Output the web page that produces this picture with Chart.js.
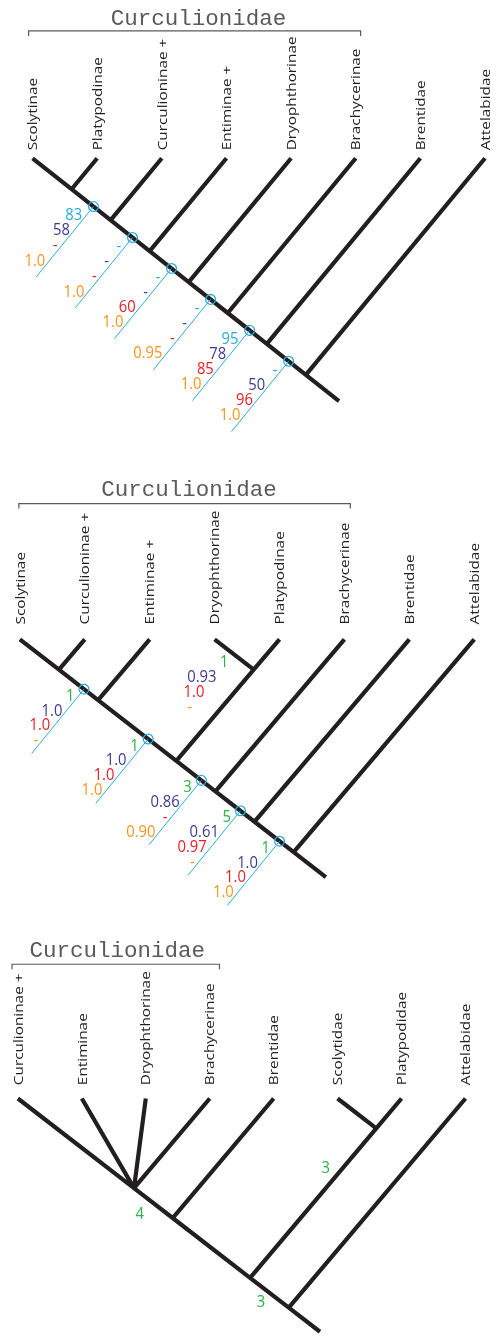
<!DOCTYPE html>
<html>
<head>
<meta charset="utf-8">
<script src="https://cdn.jsdelivr.net/npm/chart.js@4.4.1/dist/chart.umd.min.js"></script>
<style>
  html, body { margin: 0; padding: 0; background: #fff; }
  #wrap { width: 498px; height: 1342px; position: relative; }
</style>
</head>
<body>
<div id="wrap"><canvas id="c"></canvas></div>
<script>
// ---------- taxa ----------
const taxaA = ['Scolytinae', 'Platypodinae', 'Curculioninae +', 'Entiminae +', 'Dryophthorinae', 'Brachycerinae', 'Brentidae', 'Attelabidae'];
const taxaB = ['Scolytinae', 'Curculioninae +', 'Entiminae +', 'Dryophthorinae', 'Platypodinae', 'Brachycerinae', 'Brentidae', 'Attelabidae'];
const taxaC = ['Curculioninae +', 'Entiminae', 'Dryophthorinae', 'Brachycerinae', 'Brentidae', 'Scolytidae', 'Platypodidae', 'Attelabidae'];

// ---------- topologies (nested indices into the taxa lists) ----------
const topoA = [[[[[[[0, 1], 2], 3], 4], 5], 6], 7];
const topoB = [[[[[[0, 1], 2], [3, 4]], 5], 6], 7];
const topoC = [[[[0, 1, 2, 3], 4], [5, 6]], 7];

// taxa covered by the Curculionidae bracket (first, last)
const familyA = [0, 5];
const familyB = [0, 5];
const familyC = [0, 3];
const familyName = 'Curculionidae';

// ---------- clade support (clade = "first-last" tip index), null = '-' ----------
const cladesA = ['0-1', '0-2', '0-3', '0-4', '0-5', '0-6'];
const cyanA   = [83, null, null, null, 95, null];
const navyA   = [58, null, null, null, 78, 50];
const redA    = [null, null, 60, null, 85, 96];
const orangeA = [1.0, 1.0, 1.0, 0.95, 1.0, 1.0];

const cladesB = ['0-1', '0-2', '3-4', '0-4', '0-5', '0-6'];
const greenB  = [1, 1, 1, 3, 5, 1];
const navyB   = [1.0, 1.0, 0.93, 0.86, 0.61, 1.0];
const redB    = [1.0, 1.0, 1.0, null, 0.97, 1.0];
const orangeB = [null, 1.0, null, 0.90, null, 1.0];

const cladesC = ['0-3', '5-6', '0-6'];
const greenC  = [4, 3, 3];

// ---------- styling ----------
const INK = '#231f20', CYAN = '#29abe2', NAVY = '#3b3a92', RED = '#ec1c24', ORANGE = '#f7941d', GREEN = '#2bb04a';
const GREY = '#5a5a5a';
const SANS = '"Open Sans", "Noto Sans", sans-serif';
const MONO = '"Courier New", "Liberation Mono", monospace';

function fmt(v, kind) {
  if (v === null) return '-';
  if (kind === 'prob') return v === 1 ? '1.0' : v.toFixed(2);
  return String(v);
}

const trees = [
  {
    taxa: taxaA, topo: topoA, family: familyA, clades: cladesA,
    series: [
      { vals: cyanA, color: CYAN, kind: 'int' },
      { vals: navyA, color: NAVY, kind: 'int' },
      { vals: redA, color: RED, kind: 'int' },
      { vals: orangeA, color: ORANGE, kind: 'prob' }
    ],
    geo: { x0: 27, dx: 66.29, yTip: 153.5, m: 0.78, s: 1.19, rootExt: 34, nameGap: 8,
           bracketY: 25, bracketL: -4, bracketR: 5, titleY: 13, titleDx: 4,
           circleT: 0.56, leaderLen: 71, leaderSlope: 1.21, row0: 9, rowStep: 15.3 },
    place: {}
  },
  {
    taxa: taxaB, topo: topoB, family: familyB, clades: cladesB,
    series: [
      { vals: greenB, color: GREEN, kind: 'int' },
      { vals: navyB, color: NAVY, kind: 'prob' },
      { vals: redB, color: RED, kind: 'prob' },
      { vals: orangeB, color: ORANGE, kind: 'prob' }
    ],
    geo: { x0: 14, dx: 66.57, yTip: 639, m: 0.765, s: 1.16, rootExt: 33, nameGap: 15,
           bracketY: 502, bracketL: -1, bracketR: 6, titleY: 488, titleDx: 4.5,
           circleT: 0.64, leaderLen: 65, leaderSlope: 1.21, row0: 7, rowStep: 15 },
    place: { '3-4': { mode: 'free', dx: -16, dy: -14 } }
  },
  {
    taxa: taxaC, topo: topoC, family: familyC, clades: cladesC,
    series: [ { vals: greenC, color: GREEN, kind: 'int' } ],
    geo: { x0: 12, dx: 65.57, yTip: 1102.5, m: 0.76, s: 1.165, rootExt: 32, nameGap: 13.5,
           bracketY: 967, bracketL: -6, bracketR: 10, titleY: 954, titleDx: 1.5,
           circleT: 0.5, leaderLen: 0, leaderSlope: 1.2, row0: 0, rowStep: 15 },
    place: {
      '0-3': { mode: 'inline', t: 0.2, dx: -2, dy: 20 },
      '5-6': { mode: 'inline', t: 0.27, dx: -17, dy: 0 },
      '0-6': { mode: 'inline', t: 0.28, dx: 0, dy: 16 }
    }
  }
];

// ---------- cladogram layout: every node sits where the leftmost tip's
// descending diagonal meets the rightmost tip's diagonal ----------
function buildTree(T) {
  const g = T.geo;
  const tipX = i => g.x0 + i * g.dx;
  const nodes = {};
  const segs = [];
  function place(n) {
    if (typeof n === 'number') return { x: tipX(n), y: g.yTip, lo: n, hi: n };
    const kids = n.map(place);
    const lo = kids[0].lo, hi = kids[kids.length - 1].hi;
    const xl = tipX(lo), xr = tipX(hi);
    const x = (g.m * xl + g.s * xr) / (g.m + g.s);
    const node = { x, y: g.yTip + g.m * (x - xl), lo, hi };
    kids.forEach(k => { k.parent = node; segs.push([k, node]); });
    nodes[lo + '-' + hi] = node;
    return node;
  }
  const root = place(T.topo);
  root.parent = { x: root.x + g.rootExt, y: root.y + g.m * g.rootExt };
  segs.push([root, root.parent]);
  T.nodes = nodes; T.segs = segs; T.tipX = tipX;
}
trees.forEach(buildTree);

const stemPoint = (n, t) => ({ x: n.x + t * (n.parent.x - n.x), y: n.y + t * (n.parent.y - n.y) });

// ---------- datasets ----------
const branchPts = [], leaderPts = [], circlePts = [], bracketPts = [];
const GAP = { x: null, y: null };
trees.forEach(T => {
  const g = T.geo;
  T.segs.forEach(([a, b]) => { branchPts.push({ x: a.x, y: a.y }, { x: b.x, y: b.y }, GAP); });
  T.labelSpots = [];
  T.clades.forEach((key, ci) => {
    const node = T.nodes[key];
    const p = T.place[key] || { mode: 'circle' };
    if (p.mode === 'circle') {
      const c = stemPoint(node, g.circleT);
      circlePts.push(c);
      leaderPts.push(c, { x: c.x - g.leaderLen / g.leaderSlope, y: c.y + g.leaderLen }, GAP);
      T.labelSpots.push({ ci, mode: 'rows', ax: c.x, ay: c.y, gap: 4 });
    } else if (p.mode === 'free') {
      T.labelSpots.push({ ci, mode: 'rows', ax: node.x + p.dx, ay: node.y + p.dy, gap: 4 });
    } else {
      const s = stemPoint(node, p.t);
      T.labelSpots.push({ ci, mode: 'inline', ax: s.x + p.dx, ay: s.y + p.dy });
    }
  });
  const xl = T.tipX(T.family[0]) + g.bracketL, xr = T.tipX(T.family[1]) + g.bracketR;
  bracketPts.push({ x: xl, y: g.bracketY + 5 }, { x: xl, y: g.bracketY }, { x: xr, y: g.bracketY }, { x: xr, y: g.bracketY + 5 }, GAP);
});

// narrow humanist lettering: glyphs drawn slightly condensed across, long along the reading axis
const NAME_PX = 13, NAME_STRETCH = 1.18;
const NUM_PX = 14.8, NUM_TALL = 1.1;

// ---------- text: taxon names, family titles, support values ----------
const treeText = {
  id: 'treeText',
  afterDatasetsDraw(chart) {
    const { ctx, scales: { x: sx, y: sy } } = chart;
    const X = v => sx.getPixelForValue(v), Y = v => sy.getPixelForValue(v);
    const num = (txt, x, y) => {
      ctx.save();
      ctx.translate(x, y);
      ctx.scale(1, NUM_TALL);
      ctx.fillText(txt, 0, 0);
      ctx.restore();
    };
    ctx.save();
    trees.forEach(T => {
      const g = T.geo;
      // taxon names, reading upward above each tip
      ctx.fillStyle = INK;
      ctx.font = NAME_PX + 'px ' + SANS;
      ctx.textAlign = 'left';
      ctx.textBaseline = 'middle';
      T.taxa.forEach((name, i) => {
        ctx.save();
        ctx.translate(X(T.tipX(i)) + 1, Y(g.yTip - g.nameGap));
        ctx.rotate(-Math.PI / 2);
        ctx.scale(NAME_STRETCH, 1);
        ctx.fillText(name, 0, 0);
        ctx.restore();
      });
      // family title over its bracket
      const xl = T.tipX(T.family[0]) + g.bracketL, xr = T.tipX(T.family[1]) + g.bracketR;
      ctx.fillStyle = GREY;
      ctx.font = '22.5px ' + MONO;
      ctx.textAlign = 'center';
      ctx.fillText(familyName, X((xl + xr) / 2 + g.titleDx), Y(g.titleY));
      // support values
      ctx.font = NUM_PX + 'px ' + SANS;
      T.labelSpots.forEach(spot => {
        if (spot.mode === 'rows') {
          ctx.textAlign = 'right';
          T.series.forEach((ser, k) => {
            const dy = g.row0 + g.rowStep * k;
            ctx.fillStyle = ser.color;
            num(fmt(ser.vals[spot.ci], ser.kind),
              X(spot.ax - dy / g.leaderSlope - spot.gap), Y(spot.ay + dy));
          });
        } else {
          ctx.textAlign = 'center';
          const ser = T.series[0];
          ctx.fillStyle = ser.color;
          num(fmt(ser.vals[spot.ci], ser.kind), X(spot.ax), Y(spot.ay));
        }
      });
    });
    ctx.restore();
  }
};

new Chart(document.getElementById('c'), {
  type: 'scatter',
  data: {
    datasets: [
      { label: 'nodes', data: circlePts, order: 0, showLine: false, pointRadius: 4.9,
        pointBorderWidth: 1.3, pointBorderColor: CYAN, pointBackgroundColor: 'rgba(0,0,0,0)' },
      { label: 'leaders', data: leaderPts, order: 1, showLine: true, borderColor: CYAN,
        borderWidth: 1, pointRadius: 0, spanGaps: false },
      { label: 'branches', data: branchPts, order: 2, showLine: true, borderColor: INK,
        borderWidth: 4.2, borderCapStyle: 'butt', borderJoinStyle: 'miter', pointRadius: 0, spanGaps: false },
      { label: 'family', data: bracketPts, order: 3, showLine: true, borderColor: GREY,
        borderWidth: 1.2, pointRadius: 0, spanGaps: false }
    ]
  },
  options: {
    responsive: true,
    maintainAspectRatio: false,
    animation: false,
    layout: { padding: 0 },
    plugins: { legend: { display: false }, tooltip: { enabled: false } },
    events: [],
    scales: {
      x: { type: 'linear', min: 0, max: 498, display: false },
      y: { type: 'linear', min: 0, max: 1342, reverse: true, display: false }
    }
  },
  plugins: [treeText]
});
</script>
</body>
</html>
